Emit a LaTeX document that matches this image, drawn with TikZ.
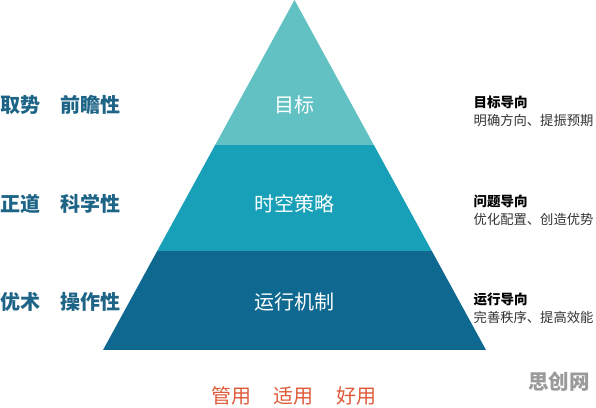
\documentclass[tikz,border=0pt]{standalone}
\usepackage{fontspec}
\newfontfamily\cjk{Noto Sans CJK SC}
\usetikzlibrary{positioning}

\definecolor{tierTop}{HTML}{62C1C3}
\definecolor{tierMid}{HTML}{17A0B7}
\definecolor{tierLow}{HTML}{0F6890}
\definecolor{sideText}{HTML}{1D6487}
\definecolor{descText}{HTML}{333333}
\definecolor{mottoText}{HTML}{DE5A38}
\definecolor{markText}{HTML}{9A9A9A}

\tikzset{
    tierlabel/.style={inner sep=0pt, text=white, font=\cjk\fontsize{20}{24}\selectfont},
    sidelabel/.style={inner sep=0pt, anchor=west, text=sideText, font=\cjk\bfseries\fontsize{20}{24}\selectfont},
    headlabel/.style={inner sep=0pt, anchor=west, text=black, font=\cjk\bfseries\fontsize{13.5}{16}\selectfont},
    desclabel/.style={inner sep=0pt, anchor=west, text=descText, font=\cjk\fontsize{13.3}{16}\selectfont}
}

\begin{document}
\begin{tikzpicture}[x=1pt, y=-1pt]
    \clip (0,0) rectangle (596,407);
    \fill[white] (0,0) rectangle (596,407);

    % pyramid bands
    \begin{scope}
        \clip (294.5,0) -- (486,350) -- (103,350) -- cycle;
        \fill[tierTop] (100,0) rectangle (490,145);
        \fill[tierMid] (100,145) rectangle (490,251);
        \fill[tierLow] (100,251) rectangle (490,350);
    \end{scope}

    \foreach \n/\y/\tier/\side/\head/\desc in {
        1/105/目标/取势\quad 前瞻性/目标导向/明确方向、提振预期,
        2/204/时空策略/正道\quad 科学性/问题导向/优化配置、创造优势,
        3/302/运行机制/优术\quad 操作性/运行导向/完善秩序、提高效能}{
        \draw (294.5, \y) node[tierlabel] (tier\n) {\tier};
        \draw (0, \y) node[sidelabel] (side\n) {\side};
        \draw (473.5, \y - 3) node[headlabel] (head\n) {\head};
        \path (head\n.west) ++(0, 18) node[desclabel] (desc\n) {\desc};
    }

    \node[inner sep=0pt, text=mottoText, font=\cjk\fontsize{20}{24}\selectfont] (motto)
        at (294, 396) {管用\hspace{1.15em}适用\hspace{1.15em}好用};

    % watermark
    \node[inner sep=0pt, text=markText, font=\cjk\bfseries\fontsize{20.5}{24}\selectfont] (mark)
        at (559, 382) {思创网};

\end{tikzpicture}
\end{document}
